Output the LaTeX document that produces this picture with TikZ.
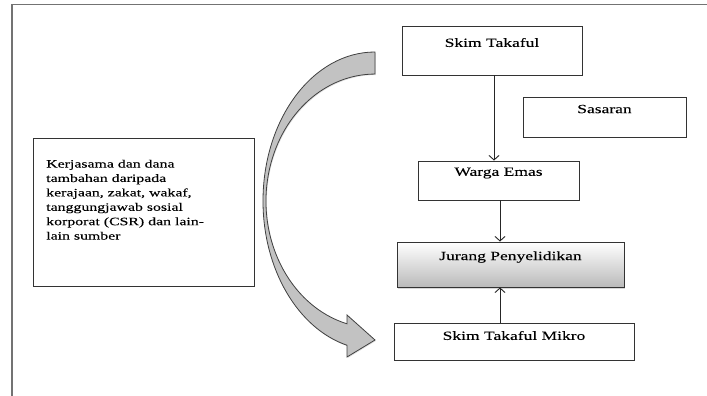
\documentclass[tikz,border=0pt]{standalone}
\usepackage{fontspec}
\setmainfont[FakeStretch=1.4, FakeBold=0.12]{Liberation Serif}
\usetikzlibrary{arrows.meta,shadows}
\begin{document}
\begin{tikzpicture}[x=1pt,y=-1pt,
  box/.style={draw=black!80, line width=0.9pt, fill=white, inner sep=0pt},
  lbl/.style={anchor=center, inner sep=0pt, font=\fontsize{12.5pt}{15pt}\selectfont, text=black},
  arr/.style={draw=black!85, line width=0.9pt, -{Straight Barb[length=4.5pt,width=10pt]}},
  frame/.style={draw=black!55, line width=1.3pt},
  bigarrow/.style={fill=black!24, draw=black!75, line width=0.8pt,
    drop shadow={shadow xshift=0.8pt, shadow yshift=-1pt, opacity=0.25}}]
\useasboundingbox (0,0) rectangle (707,396);
\fill[white] (0,0) rectangle (707,396);
% frame
\draw[frame] (12,396) -- (12,4.5) -- (707,4.5);
% left box
\node[box, minimum width=220.5pt, minimum height=148pt,
  label={[anchor=north west, inner sep=0pt, xshift=13pt, yshift=-21.5pt, align=left,
          font=\fontsize{11.3pt}{14.4pt}\selectfont, text=black]north west:Kerjasama dan dana\\tambahan daripada\\kerajaan, zakat, wakaf,\\tanggungjawab sosial\\korporat (CSR) dan lain-\\lain sumber}]
  (lb) at (143.75,212.5) {};
% right boxes
\node[box, minimum width=180pt, minimum height=49pt,
  label={[lbl, yshift=-17pt]north:Skim Takaful}] (st) at (492,50.5) {};
\node[box, minimum width=163pt, minimum height=40pt,
  label={[lbl, yshift=-12.5pt]north:Sasaran}] (sa) at (604.5,117) {};
\node[box, minimum width=161pt, minimum height=39pt,
  label={[lbl, yshift=-12.5pt]north:Warga Emas}] (we) at (498.5,180.5) {};
\node[box, minimum width=227pt, minimum height=45pt, top color=white, bottom color=black!27,
  drop shadow={shadow xshift=1pt, shadow yshift=-2pt, opacity=0.3},
  label={[lbl, yshift=-15.5pt]north:Jurang Penyelidikan}] (jp) at (510.5,264.5) {};
\node[box, minimum width=240pt, minimum height=37pt,
  label={[lbl, yshift=-13pt]north:Skim Takaful Mikro}] (sm) at (514,341.5) {};
% connectors
\coordinate (a1) at ([xshift=2pt]st.south);
\draw[arr] (a1) -- (a1 |- we.north);
\coordinate (a2) at ([xshift=1.5pt]we.south);
\draw[arr] (a2) -- (a2 |- jp.north);
\coordinate (a3) at ([xshift=-14pt]sm.north);
\draw[arr] (a3) -- (a3 |- jp.south);
% big curved arrow
\draw[bigarrow] (375,52) arc[start angle=270, end angle=104.48, x radius=112, y radius=149]
  -- (347,357) -- (375,340) -- (347,315) -- (347,323.8)
  arc[start angle=104.88, end angle=270, x radius=109, y radius=127] -- cycle;
\end{tikzpicture}
\end{document}
